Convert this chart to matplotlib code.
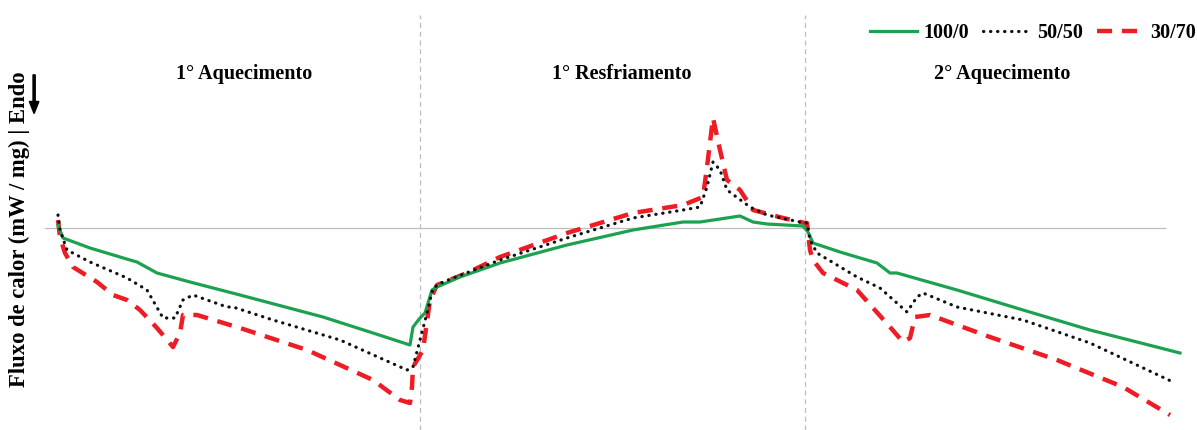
import matplotlib.pyplot as plt
from matplotlib.patches import FancyArrow

plt.rcParams['font.family'] = ['Liberation Serif', 'DejaVu Serif']

# tempo (min) e fluxo de calor (mW/mg) para cada amostra
tempo_100 = [0, 0.5, 3.2, 7.2, 7.9, 9.9, 13.2, 18.2, 26.5, 31.5,
             35.2, 35.5, 36.2, 36.7, 37.4, 37.9, 40.2, 44.2, 50.9, 57.5,
             62.5, 64.2, 68.2, 69.5, 70.9, 74.5, 75.0, 75.5, 78.2, 81.9,
             83.2, 83.9, 89.9, 96.5, 103.2, 112.2]
fluxo_100 = [0.03, -0.10, -0.20, -0.32, -0.34, -0.45, -0.54, -0.67, -0.89, -1.05,
             -1.17, -0.99, -0.90, -0.85, -0.62, -0.59, -0.49, -0.35, -0.17, -0.02,
             0.06, 0.06, 0.12, 0.06, 0.04, 0.02, -0.04, -0.15, -0.24, -0.35,
             -0.45, -0.45, -0.62, -0.82, -1.02, -1.25]

tempo_50 = [0, 0.2, 0.9, 3.2, 6.9, 8.9, 10.5, 11.7, 12.5, 13.5,
            16.9, 17.5, 21.5, 28.2, 34.9, 35.5, 36.2, 36.9, 37.5, 38.5,
            44.2, 50.9, 57.5, 62.5, 64.2, 64.9, 65.5, 66.2, 66.9, 69.2,
            70.9, 74.2, 74.9, 75.2, 75.9, 79.9, 82.2, 84.9, 85.9, 86.5,
            89.9, 96.5, 103.2, 111.5]
fluxo_50 = [0.13, -0.02, -0.22, -0.34, -0.50, -0.62, -0.90, -0.90, -0.72, -0.67,
            -0.79, -0.79, -0.92, -1.12, -1.42, -1.39, -1.12, -0.85, -0.60, -0.54,
            -0.32, -0.10, 0.10, 0.18, 0.21, 0.41, 0.66, 0.58, 0.38, 0.21,
            0.13, 0.06, 0.05, -0.12, -0.25, -0.49, -0.60, -0.84, -0.69, -0.65,
            -0.79, -0.92, -1.15, -1.54]

tempo_30 = [0, 0.2, 0.7, 1.5, 3.9, 5.5, 6.9, 8.2, 9.9, 11.5,
            12.2, 12.5, 13.9, 18.2, 24.9, 31.5, 34.2, 35.2, 35.4, 35.5,
            36.5, 37.2, 37.9, 40.9, 44.2, 50.9, 57.5, 62.5, 64.5, 64.9,
            65.5, 66.2, 66.9, 68.2, 69.5, 72.5, 74.7, 74.9, 75.2, 75.5,
            76.5, 79.9, 83.2, 84.5, 85.2, 85.7, 87.2, 93.2, 99.9, 106.5,
            111.2]
fluxo_30 = [0.08, -0.09, -0.25, -0.39, -0.54, -0.67, -0.72, -0.82, -1.00, -1.19,
            -1.05, -0.87, -0.87, -1.00, -1.22, -1.52, -1.72, -1.75, -1.59, -1.39,
            -1.22, -0.72, -0.57, -0.45, -0.29, -0.05, 0.15, 0.23, 0.31, 0.61,
            1.10, 0.78, 0.48, 0.38, 0.18, 0.10, 0.05, 0.05, -0.22, -0.32,
            -0.45, -0.62, -0.99, -1.14, -1.10, -0.89, -0.87, -1.09, -1.32, -1.59,
            -1.87]

# limites entre as etapas e seus nomes
limites = [36.2, 74.7]
etapas = ['1° Aquecimento', '1° Resfriamento', '2° Aquecimento']
centros_etapas = [18.6, 56.4, 94.4]


def main():
    fig = plt.figure(figsize=(11.97, 4.30), dpi=100)
    ax = fig.add_axes([0, 0, 1, 1])
    ax.set_xlim(-5.8, 113.9)
    ax.set_ylim(-2.02, 2.28)
    ax.axis('off')

    # linha de base e divisoes
    ax.plot([-1.3, 110.7], [0, 0], color='#bdbdbd', lw=0.9, zorder=1)
    for x in limites:
        ax.plot([x, x], [-2.02, 2.13], color='#bdbdbd', lw=0.9,
                ls=(0, (4, 3)), zorder=1)

    verde, = ax.plot(tempo_100, fluxo_100, color='#1ba14f', lw=2.3,
                     solid_joinstyle='round', zorder=3)
    preto, = ax.plot(tempo_50, fluxo_50, color='#111111', lw=2.3,
                     ls=(0, (0.1, 2.1)), dash_capstyle='round', zorder=4)
    vermelho, = ax.plot(tempo_30, fluxo_30, color='#ee1c25', lw=3.2,
                        ls=(0, (3.4, 2.2)), zorder=2)

    for nome, xc in zip(etapas, centros_etapas):
        ax.text(xc, 1.54, nome, ha='center', va='center', fontsize=14.5,
                fontweight='bold')

    fig.legend([verde, preto, vermelho], ['100/0', '50/50', '30/70'],
               loc='center right', bbox_to_anchor=(0.999, 0.923), ncol=3,
               frameon=False, prop={'weight': 'bold', 'size': 14.5},
               handlelength=2.3, handletextpad=0.35, columnspacing=0.7,
               borderpad=0, borderaxespad=0)

    # rotulo do eixo y com seta de endotermico
    fig.text(0.0165, 0.466, 'Fluxo de calor (mW / mg) | Endo', rotation=90,
             ha='center', va='center', fontsize=16.3, fontweight='bold')
    fig.patches.append(FancyArrow(
        0.0285, 0.826, 0, -0.09, width=0.0018, head_width=0.008,
        head_length=0.028, color='black', transform=fig.transFigure,
        length_includes_head=True))

    fig.savefig('out.png', dpi=100)


if __name__ == '__main__':
    main()
